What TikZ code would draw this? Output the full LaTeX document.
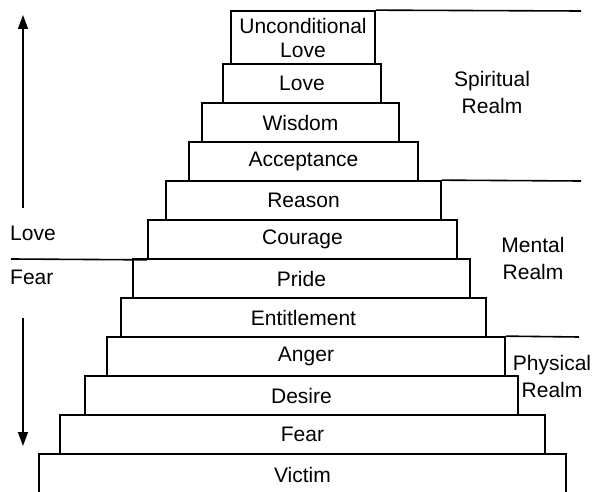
\documentclass[tikz,border=0pt]{standalone}
\usepackage{fontspec}
\setmainfont{Liberation Sans}
\usetikzlibrary{arrows.meta}
\begin{document}
\begin{tikzpicture}[x=1pt,y=-1pt]
\tikzset{stufe/.style={draw,line width=1.7pt,inner sep=0pt,minimum height=39pt,font=\fontsize{21}{24}\selectfont,align=center},
  bereich/.style={font=\fontsize{21}{27}\selectfont,align=center,inner sep=0pt},
  grenze/.style={line width=1.6pt},
  pfeil/.style={line width=1.4pt,-{Triangle[width=10pt,length=14pt]}}}
\useasboundingbox (0,0) rectangle (592,492);
\clip (0,0) rectangle (592,492);
\node [stufe,minimum width=144pt,minimum height=53pt] (uncond) at (303,37.5) {Unconditional\\Love};
\node [stufe,minimum width=158pt] (love) at (302,83.5) {Love};
\node [stufe,minimum width=197pt] (wisdom) at (300.5,122.5) {Wisdom};
\node [stufe,minimum width=229pt] (accept) at (303.5,161.5) {Acceptance};
\node [stufe,minimum width=275pt] (reason) at (303.5,200.5) {Reason};
\node [stufe,minimum width=309pt] (courage) at (302.5,239.5) {Courage};
\node [stufe,minimum width=337pt] (pride) at (301.5,278.5) {Pride};
\node [stufe,minimum width=365pt] (entitle) at (303.5,317.5) {Entitlement};
\node [stufe,minimum width=398pt] (anger) at (306,356.5) {Anger};
\node [stufe,minimum width=433pt] (desire) at (301.5,395.5) {Desire};
\node [stufe,minimum width=485pt] (fear) at (302.5,434.5) {Fear};
\node [stufe,minimum width=527pt,minimum height=42pt] (victim) at (302.5,475) {Victim};
% realm boundaries
\coordinate (r1) at (581,11);
\coordinate (r2) at (581,181);
\coordinate (r3) at (579,337);
\coordinate (lf) at (11,259);
\draw [grenze] (uncond.north east) -- (r1);
\draw [grenze] (reason.north east) -- (r2);
\draw [grenze] (anger.north east) -- (r3);
\draw [grenze] (lf) -- (courage.south west);
\node [bereich] (spirit) at (492,92) {Spiritual\\Realm};
\node [bereich] (mental) at (533,258) {Mental\\Realm};
\node [bereich] (physic) at (552,376) {Physical\\Realm};
\node [bereich,anchor=west] (lovelab) at (10,233) {Love};
\node [bereich,anchor=west] (fearlab) at (10,277) {Fear};
% arrows
\coordinate (a1) at (23,208);
\coordinate (a2) at (23,15);
\coordinate (b1) at (23,318);
\coordinate (b2) at (23,446);
\draw [pfeil] (a1) -- (a2);
\draw [pfeil] (b1) -- (b2);
\end{tikzpicture}
\end{document}
